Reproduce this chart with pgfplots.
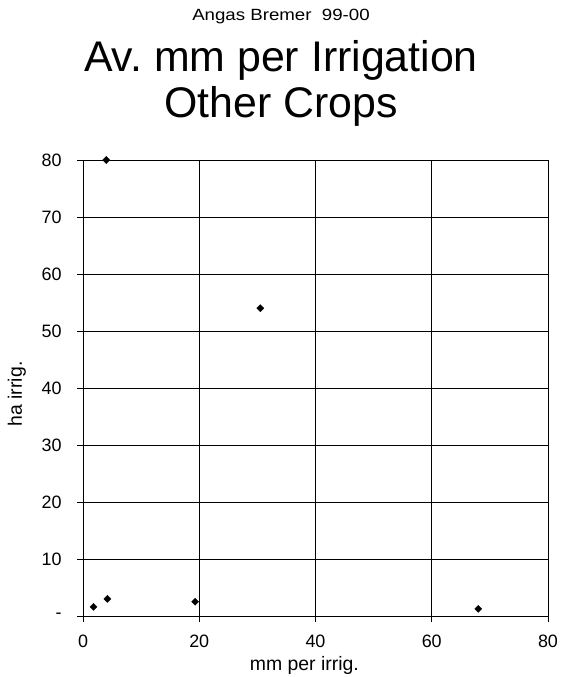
\documentclass[border=0pt]{standalone}
\usepackage{fontspec}
\setmainfont{Liberation Sans}
\newfontfamily\widefont{Liberation Sans}[FakeStretch=1.15]
\usepackage{pgfplots}
\pgfplotsset{compat=1.18}
\frenchspacing
\begin{document}
\begin{tikzpicture}
\useasboundingbox (0,0) rectangle (564bp,677bp);
\node[anchor=base,font=\widefont\fontsize{16.3}{18}\selectfont] at (281bp,656.3bp) {Angas Bremer\ \ 99-00};
\node[anchor=base,font=\fontsize{43}{46}\selectfont] at (281bp,605bp) {Av. mm per Irrigation};
\node[anchor=base,font=\fontsize{43}{46}\selectfont] at (281bp,559bp) {Other Crops};
\begin{axis}[
  at={(83bp,61bp)}, anchor=south west,
  scale only axis, width=465bp, height=456bp,
  xmin=0, xmax=80, ymin=0, ymax=80,
  xtick={0,20,40,60,80}, ytick={0,10,20,30,40,50,60,70,80},
  yticklabels={-,10,20,30,40,50,60,70,80},
  /pgf/number format/assume math mode=true,
  tick pos=left,
  tick align=outside, major tick length=6bp,
  tick style={black, line width=0.8bp},
  grid=major, grid style={black, line width=0.8bp},
  axis line style={black, line width=0.9bp},
  ticklabel style={font=\fontsize{18}{20}\selectfont},
  xticklabel style={yshift=-9bp},
  yticklabel style={xshift=-12bp},
  xlabel={mm per irrig.}, ylabel={ha irrig.},
  label style={font=\fontsize{19.5}{21}\selectfont},
  xlabel style={at={(rel axis cs:0.476,0)}, anchor=base, yshift=-54.7bp},
  ylabel style={at={(rel axis cs:0,0.487)}, anchor=base, yshift=61bp},
]
\addplot[only marks, mark=square*, mark options={rotate=45}, mark size=2.5bp, black] coordinates {
  (1.8,1.6) (4.2,3.0) (4.0,80) (19.3,2.5) (30.5,54) (68.0,1.25)
};
\end{axis}
\end{tikzpicture}
\end{document}
